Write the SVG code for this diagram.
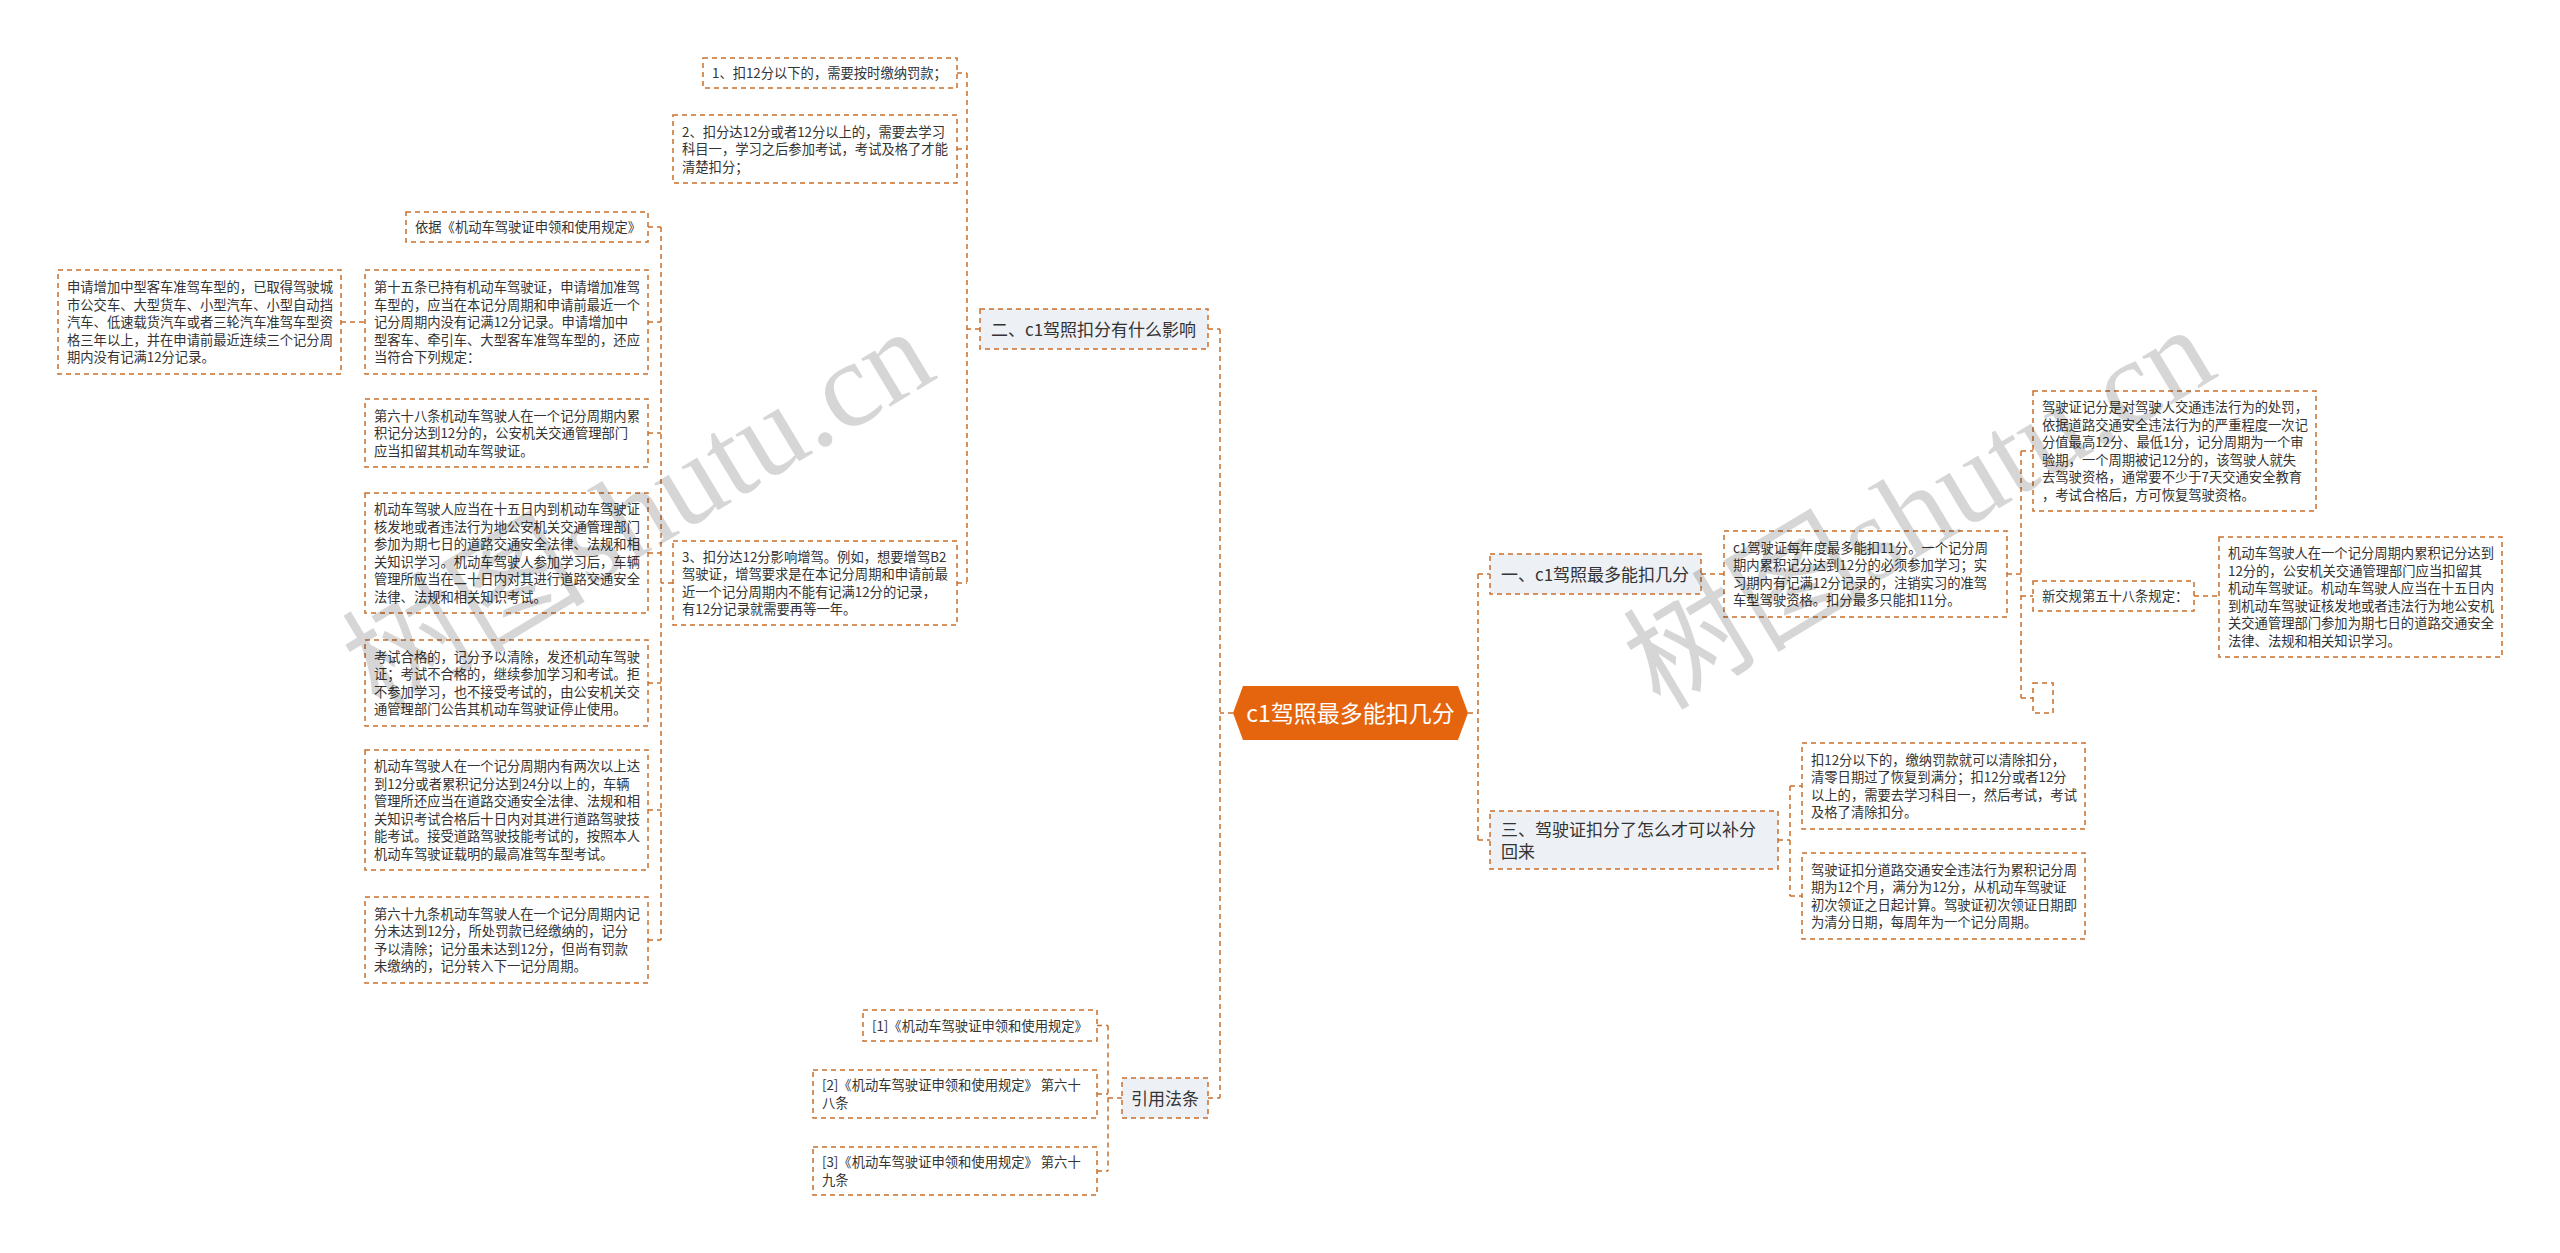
<svg xmlns="http://www.w3.org/2000/svg" width="2560" height="1253" viewBox="0 0 2560 1253">
<style>
.b{fill:#ffffff;stroke:#c96f2b;stroke-width:1.5;stroke-dasharray:5 4}
.l1{fill:#edf0f4;stroke:#c96f2b;stroke-width:1.5;stroke-dasharray:5 4}
.c{fill:none;stroke:#c96f2b;stroke-width:1.5;stroke-dasharray:5 4}
.t{font-family:"Noto Sans CJK SC","Microsoft YaHei",sans-serif;font-size:13.3px;fill:#333333}
.t1{font-family:"Noto Sans CJK SC","Microsoft YaHei",sans-serif;font-size:17px;fill:#333333}
.tr{font-family:"Noto Sans CJK SC","Microsoft YaHei",sans-serif;font-size:23px;fill:#ffffff}
.wm{font-family:"Liberation Serif","Noto Sans CJK SC",serif;font-size:122px;fill:#000000;fill-opacity:0.16}
</style>
<rect width="2560" height="1253" fill="#ffffff"/>
<g id="connectors">
<path class="c" d="M1233,713H1220M1220,329V1098M1208,329H1220M1208,1098H1220"/>
<path class="c" d="M1468,713H1478M1478,574V840M1478,574H1490M1478,840H1490"/>
<path class="c" d="M980,329H967M967,73V583M957,73H967M957,149H967M957,583H967"/>
<path class="c" d="M673,583H661M661,227V940M648,227H661M648,322H661M648,433H661M648,553H661M648,683H661M648,810H661M648,940H661"/>
<path class="c" d="M341,322H365"/>
<path class="c" d="M1122,1098H1108M1108,1025.5V1171M1097,1025.5H1108M1097,1094H1108M1097,1171H1108"/>
<path class="c" d="M1701,574H1724"/>
<path class="c" d="M2007,574H2021M2021,451V698M2021,451H2033M2021,596H2033M2021,698H2033"/>
<path class="c" d="M2194,596H2219"/>
<path class="c" d="M1778,840H1790M1790,786V896M1790,786H1802M1790,896H1802"/>
</g>
<g id="root">
<polygon points="1233,713 1243,686 1458,686 1468,713 1458,740 1243,740" fill="#e5650f"/>
<text class="tr" x="1350.5" y="721.5" text-anchor="middle">c1驾照最多能扣几分</text>
</g>
<g id="n-er">
<rect class="l1" x="980" y="309" width="228" height="40"/>
<text class="t1" x="991" y="335.5">二、c1驾照扣分有什么影响</text>
</g>
<g id="n-yinyong">
<rect class="l1" x="1122" y="1078" width="86" height="40"/>
<text class="t1" x="1131" y="1104.5">引用法条</text>
</g>
<g id="n-yi">
<rect class="l1" x="1490" y="554" width="211" height="40"/>
<text class="t1" x="1501" y="580.5">一、c1驾照最多能扣几分</text>
</g>
<g id="n-san">
<rect class="l1" x="1490" y="811" width="288" height="58"/>
<text class="t1"><tspan x="1501" y="835.5">三、驾驶证扣分了怎么才可以补分</tspan><tspan x="1501" y="857.5">回来</tspan></text>
</g>
<g id="n-k1">
<rect class="b" x="703" y="58" width="254" height="30"/>
<text class="t" x="712" y="78">1、扣12分以下的，需要按时缴纳罚款；</text>
</g>
<g id="n-k2">
<rect class="b" x="673" y="115" width="284" height="68"/>
<text class="t"><tspan x="682" y="136.5">2、扣分达12分或者12分以上的，需要去学习</tspan><tspan x="682" y="154">科目一，学习之后参加考试，考试及格了才能</tspan><tspan x="682" y="171.5">清楚扣分；</tspan></text>
</g>
<g id="n-k3">
<rect class="b" x="673" y="541" width="284" height="84"/>
<text class="t"><tspan x="682" y="561.75">3、扣分达12分影响增驾。例如，想要增驾B2</tspan><tspan x="682" y="579.25">驾驶证，增驾要求是在本记分周期和申请前最</tspan><tspan x="682" y="596.75">近一个记分周期内不能有记满12分的记录，</tspan><tspan x="682" y="614.25">有12分记录就需要再等一年。</tspan></text>
</g>
<g id="n-yiju">
<rect class="b" x="406" y="212" width="242" height="30"/>
<text class="t" x="415" y="232">依据《机动车驾驶证申领和使用规定》</text>
</g>
<g id="n-15">
<rect class="b" x="365" y="270" width="283" height="104"/>
<text class="t"><tspan x="374" y="292">第十五条已持有机动车驾驶证，申请增加准驾</tspan><tspan x="374" y="309.5">车型的，应当在本记分周期和申请前最近一个</tspan><tspan x="374" y="327">记分周期内没有记满12分记录。申请增加中</tspan><tspan x="374" y="344.5">型客车、牵引车、大型客车准驾车型的，还应</tspan><tspan x="374" y="362">当符合下列规定：</tspan></text>
</g>
<g id="n-15a">
<rect class="b" x="58" y="270" width="283" height="104"/>
<text class="t"><tspan x="67" y="292">申请增加中型客车准驾车型的，已取得驾驶城</tspan><tspan x="67" y="309.5">市公交车、大型货车、小型汽车、小型自动挡</tspan><tspan x="67" y="327">汽车、低速载货汽车或者三轮汽车准驾车型资</tspan><tspan x="67" y="344.5">格三年以上，并在申请前最近连续三个记分周</tspan><tspan x="67" y="362">期内没有记满12分记录。</tspan></text>
</g>
<g id="n-68">
<rect class="b" x="365" y="399" width="283" height="68"/>
<text class="t"><tspan x="374" y="420.5">第六十八条机动车驾驶人在一个记分周期内累</tspan><tspan x="374" y="438">积记分达到12分的，公安机关交通管理部门</tspan><tspan x="374" y="455.5">应当扣留其机动车驾驶证。</tspan></text>
</g>
<g id="n-15d">
<rect class="b" x="365" y="493" width="283" height="120"/>
<text class="t"><tspan x="374" y="514.25">机动车驾驶人应当在十五日内到机动车驾驶证</tspan><tspan x="374" y="531.75">核发地或者违法行为地公安机关交通管理部门</tspan><tspan x="374" y="549.25">参加为期七日的道路交通安全法律、法规和相</tspan><tspan x="374" y="566.75">关知识学习。机动车驾驶人参加学习后，车辆</tspan><tspan x="374" y="584.25">管理所应当在二十日内对其进行道路交通安全</tspan><tspan x="374" y="601.75">法律、法规和相关知识考试。</tspan></text>
</g>
<g id="n-kaoshi">
<rect class="b" x="365" y="640" width="283" height="86"/>
<text class="t"><tspan x="374" y="661.75">考试合格的，记分予以清除，发还机动车驾驶</tspan><tspan x="374" y="679.25">证；考试不合格的，继续参加学习和考试。拒</tspan><tspan x="374" y="696.75">不参加学习，也不接受考试的，由公安机关交</tspan><tspan x="374" y="714.25">通管理部门公告其机动车驾驶证停止使用。</tspan></text>
</g>
<g id="n-24">
<rect class="b" x="365" y="750" width="283" height="120"/>
<text class="t"><tspan x="374" y="771.25">机动车驾驶人在一个记分周期内有两次以上达</tspan><tspan x="374" y="788.75">到12分或者累积记分达到24分以上的，车辆</tspan><tspan x="374" y="806.25">管理所还应当在道路交通安全法律、法规和相</tspan><tspan x="374" y="823.75">关知识考试合格后十日内对其进行道路驾驶技</tspan><tspan x="374" y="841.25">能考试。接受道路驾驶技能考试的，按照本人</tspan><tspan x="374" y="858.75">机动车驾驶证载明的最高准驾车型考试。</tspan></text>
</g>
<g id="n-69">
<rect class="b" x="365" y="897" width="283" height="86"/>
<text class="t"><tspan x="374" y="918.75">第六十九条机动车驾驶人在一个记分周期内记</tspan><tspan x="374" y="936.25">分未达到12分，所处罚款已经缴纳的，记分</tspan><tspan x="374" y="953.75">予以清除；记分虽未达到12分，但尚有罚款</tspan><tspan x="374" y="971.25">未缴纳的，记分转入下一记分周期。</tspan></text>
</g>
<g id="n-ref1">
<rect class="b" x="863" y="1010" width="234" height="31"/>
<text class="t" x="872" y="1030.5">[1]《机动车驾驶证申领和使用规定》</text>
</g>
<g id="n-ref2">
<rect class="b" x="813" y="1070" width="284" height="48"/>
<text class="t"><tspan x="822" y="1090.25">[2]《机动车驾驶证申领和使用规定》 第六十</tspan><tspan x="822" y="1107.75">八条</tspan></text>
</g>
<g id="n-ref3">
<rect class="b" x="813" y="1147" width="284" height="48"/>
<text class="t"><tspan x="822" y="1167.25">[3]《机动车驾驶证申领和使用规定》 第六十</tspan><tspan x="822" y="1184.75">九条</tspan></text>
</g>
<g id="n-c1">
<rect class="b" x="1724" y="531" width="283" height="86"/>
<text class="t"><tspan x="1733" y="552.75">c1驾驶证每年度最多能扣11分。一个记分周</tspan><tspan x="1733" y="570.25">期内累积记分达到12分的必须参加学习；实</tspan><tspan x="1733" y="587.75">习期内有记满12分记录的，注销实习的准驾</tspan><tspan x="1733" y="605.25">车型驾驶资格。扣分最多只能扣11分。</tspan></text>
</g>
<g id="n-jifen">
<rect class="b" x="2033" y="391" width="283" height="120"/>
<text class="t"><tspan x="2042" y="412.25">驾驶证记分是对驾驶人交通违法行为的处罚，</tspan><tspan x="2042" y="429.75">依据道路交通安全违法行为的严重程度一次记</tspan><tspan x="2042" y="447.25">分值最高12分、最低1分，记分周期为一个审</tspan><tspan x="2042" y="464.75">验期，一个周期被记12分的，该驾驶人就失</tspan><tspan x="2042" y="482.25">去驾驶资格，通常要不少于7天交通安全教育</tspan><tspan x="2042" y="499.75">，考试合格后，方可恢复驾驶资格。</tspan></text>
</g>
<g id="n-58">
<rect class="b" x="2033" y="581" width="161" height="30"/>
<text class="t" x="2042" y="601">新交规第五十八条规定：</text>
</g>
<g id="n-58a">
<rect class="b" x="2219" y="537" width="283" height="120"/>
<text class="t"><tspan x="2228" y="558.25">机动车驾驶人在一个记分周期内累积记分达到</tspan><tspan x="2228" y="575.75">12分的，公安机关交通管理部门应当扣留其</tspan><tspan x="2228" y="593.25">机动车驾驶证。机动车驾驶人应当在十五日内</tspan><tspan x="2228" y="610.75">到机动车驾驶证核发地或者违法行为地公安机</tspan><tspan x="2228" y="628.25">关交通管理部门参加为期七日的道路交通安全</tspan><tspan x="2228" y="645.75">法律、法规和相关知识学习。</tspan></text>
</g>
<g id="n-empty">
<rect class="b" x="2033" y="683" width="20" height="30"/>
</g>
<g id="n-bu1">
<rect class="b" x="1802" y="743" width="283" height="86"/>
<text class="t"><tspan x="1811" y="764.75">扣12分以下的，缴纳罚款就可以清除扣分，</tspan><tspan x="1811" y="782.25">清零日期过了恢复到满分；扣12分或者12分</tspan><tspan x="1811" y="799.75">以上的，需要去学习科目一，然后考试，考试</tspan><tspan x="1811" y="817.25">及格了清除扣分。</tspan></text>
</g>
<g id="n-bu2">
<rect class="b" x="1802" y="853" width="283" height="86"/>
<text class="t"><tspan x="1811" y="874.75">驾驶证扣分道路交通安全违法行为累积记分周</tspan><tspan x="1811" y="892.25">期为12个月，满分为12分，从机动车驾驶证</tspan><tspan x="1811" y="909.75">初次领证之日起计算。驾驶证初次领证日期即</tspan><tspan x="1811" y="927.25">为清分日期，每周年为一个记分周期。</tspan></text>
</g>
<g id="watermark">
<text class="wm" x="639" y="551" text-anchor="middle" transform="rotate(-31 639 511)">树图shutu.cn</text>
<text class="wm" x="1920" y="549" text-anchor="middle" transform="rotate(-31 1920 509)">树图shutu.cn</text>
</g>
</svg>
